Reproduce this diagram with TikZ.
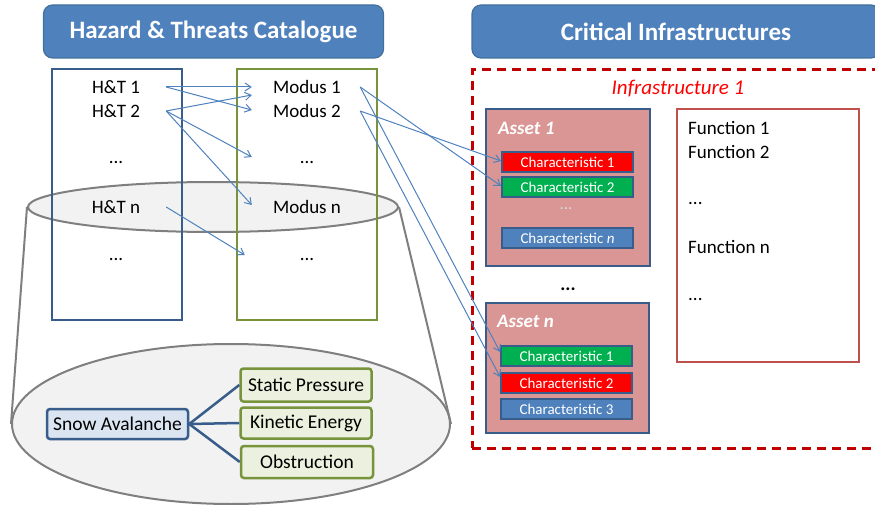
\documentclass[tikz,border=0pt]{standalone}
\usepackage{fontspec}
\setmainfont{Carlito}
\usetikzlibrary{shapes.geometric,arrows.meta}
\definecolor{tblue}{HTML}{4F81BD}
\definecolor{tborder}{HTML}{41719C}
\definecolor{dblue}{HTML}{385D8A}
\definecolor{ogreen}{HTML}{77933C}
\definecolor{conegray}{HTML}{7F7F7F}
\definecolor{conefill}{HTML}{F2F2F2}
\definecolor{assetfill}{HTML}{D99694}
\definecolor{cred}{HTML}{FF0000}
\definecolor{cgreen}{HTML}{00B050}
\definecolor{funcred}{HTML}{C0504D}
\definecolor{infrared}{HTML}{C00000}
\definecolor{snowfill}{HTML}{DBE5F1}
\definecolor{modfill}{HTML}{EBF1DE}
\begin{document}
\begin{tikzpicture}[x=1pt,y=-1pt,
  titlebox/.style={draw=tborder, line width=1.2pt, fill=tblue, rounded corners=9pt, text=white,
    font=\fontsize{25}{29}\selectfont\bfseries, minimum height=53pt, inner sep=0pt},
  colbox/.style={line width=2.7pt, inner sep=0pt},
  ctext/.style={font=\fontsize{19}{23}\selectfont, inner sep=0pt, text=black},
  httext/.style={ctext, minimum width=100pt},
  modtext/.style={ctext, minimum width=110pt},
  link/.style={draw=tblue, line width=1pt, -{Straight Barb[length=6pt,width=8pt]}},
  coneell/.style={draw=conegray, line width=2pt, fill=conefill, ellipse, inner sep=0pt},
  coneline/.style={draw=conegray, line width=2pt},
  snowbox/.style={draw=dblue, fill=snowfill, line width=2.5pt, rounded corners=3pt, inner sep=0pt,
    font=\fontsize{19.5}{23}\selectfont},
  effbox/.style={draw=ogreen, fill=modfill, line width=2.5pt, rounded corners=3pt, inner sep=0pt,
    minimum width=131pt, font=\fontsize{19.5}{23}\selectfont},
  tree/.style={draw=dblue, line width=2.5pt},
  assetbox/.style={draw=dblue, fill=assetfill, line width=2pt, inner sep=0pt},
  assetlabel/.style={font=\fontsize{19}{23}\selectfont\bfseries\itshape, text=white, inner sep=0pt, anchor=west},
  charbox/.style={draw=dblue, line width=1.8pt, minimum width=131pt, minimum height=20pt, inner sep=0pt,
    text=white, font=\fontsize{15}{17}\selectfont},
  functext/.style={ctext, anchor=west}
]
\useasboundingbox (0,0) rectangle (875,505);
\clip (0,0) rectangle (875,505);

% title boxes
\node[titlebox, minimum width=340pt] (tleft) at (213.5,31.5) {Hazard \& Threats Catalogue};
\node[titlebox, minimum width=408pt] (tright) at (676,31.5) {Critical Infrastructures};

% cone
\node[coneell, minimum width=370pt, minimum height=50pt] (topell) at (213,207) {};
\node[coneell, minimum width=438pt, minimum height=160pt] (botell) at (231,424) {};
\draw[coneline] (topell.west) -- (botell.west);
\draw[coneline] (topell.east) -- (botell.east);

% columns
\node[colbox, draw=dblue, minimum width=130pt, minimum height=251pt] (htcol) at (117,194.5) {};
\node[colbox, draw=ogreen, minimum width=140pt, minimum height=251pt] (modcol) at (307,194.5) {};

\node[httext] (ht1) at (116,87) {H\&T 1};
\node[httext] (ht2) at (116,111) {H\&T 2};
\node[httext] (htd1) at (116,162) {...};
\node[httext] (htn) at (116,207) {H\&T n};
\node[httext] (htd2) at (116,259) {...};

\node[modtext] (mod1) at (307,87) {Modus 1};
\node[modtext] (mod2) at (307,111) {Modus 2};
\node[modtext] (modd1) at (307,162) {...};
\node[modtext] (modn) at (307,207) {Modus n};
\node[modtext] (modd2) at (307,259) {...};

% snow avalanche tree
\node[snowbox, minimum width=141pt, minimum height=30pt] (snow) at (117.5,424) {Snow Avalanche};
\node[effbox, minimum height=33pt] (static) at (306,385) {Static Pressure};
\node[effbox, minimum height=31pt] (kinetic) at (306,423) {Kinetic Energy};
\node[effbox, minimum width=132pt, minimum height=32pt] (obstr) at (307,462) {Obstruction};
\draw[tree] (snow.east) -- (static.west);
\draw[tree] (snow.east) -- (kinetic.west);
\draw[tree] (snow.east) -- (obstr.west);

% infrastructure
\node[draw=infrared, line width=3pt, dash pattern=on 9pt off 6pt, minimum width=413pt, minimum height=378pt, inner sep=0pt] (infra) at (678.5,259) {};
\node[font=\fontsize{21}{25}\selectfont\itshape, text=cred, inner sep=0pt] (infratitle) at (678,89) {Infrastructure 1};

\node[assetbox, minimum width=164pt, minimum height=157pt] (asset1) at (568,187.5) {};
\node[assetlabel] (a1lab) at (498,128) {Asset 1};
\node[charbox, fill=cred] (a1c1) at (567.5,162) {Characteristic 1};
\node[charbox, fill=cgreen] (a1c2) at (567.5,187) {Characteristic 2};
\node[font=\fontsize{17}{19}\selectfont, text=white!85!black, inner sep=0pt] (a1dots) at (566,209) {...};
\node[charbox, fill=tblue] (a1cn) at (567.5,238) {Characteristic \textit{n}};

\node[font=\fontsize{19}{23}\selectfont\bfseries, inner sep=0pt] (adots) at (568,289) {...};

\node[assetbox, minimum width=163pt, minimum height=130pt] (assetn) at (567.5,368) {};
\node[assetlabel] (anlab) at (497,321) {Asset n};
\node[charbox, fill=cgreen] (anc1) at (566.5,356) {Characteristic 1};
\node[charbox, fill=cred] (anc2) at (566.5,383) {Characteristic 2};
\node[charbox, fill=tblue] (anc3) at (566.5,409) {Characteristic 3};

\node[draw=funcred, line width=2.5pt, minimum width=182pt, minimum height=253pt, inner sep=0pt] (funcbox) at (768,235.5) {};
\node[functext] (f1) at (688,128) {Function 1};
\node[functext] (f2) at (688,152) {Function 2};
\node[functext] (fd1) at (688,203) {...};
\node[functext] (fn) at (688,247) {Function n};
\node[functext] (fd2) at (688,299) {...};

% links
\draw[link] (ht1.east) -- (mod1.west);
\draw[link] (ht1.east) -- ([yshift=1pt]mod2.west);
\draw[link] (ht2.east) -- ([yshift=-8pt]mod1.west);
\draw[link] (ht2.east) -- ([yshift=5pt]modd1.west);
\draw[link] (ht2.east) -- ([yshift=2pt]modn.west);
\draw[link] (htn.east) -- ([xshift=-7pt,yshift=4pt]modd2.west);

\draw[link] ([xshift=-2pt]mod1.east) -- ([yshift=1pt]a1c2.west);
\draw[link] ([xshift=-2pt]mod2.east) -- ([yshift=1pt]a1c1.west);
\draw[link] ([xshift=-2pt]mod1.east) -- ([yshift=4pt]anc1.west);
\draw[link] ([xshift=-2pt]mod2.east) -- ([yshift=6pt]anc2.west);
\end{tikzpicture}
\end{document}
